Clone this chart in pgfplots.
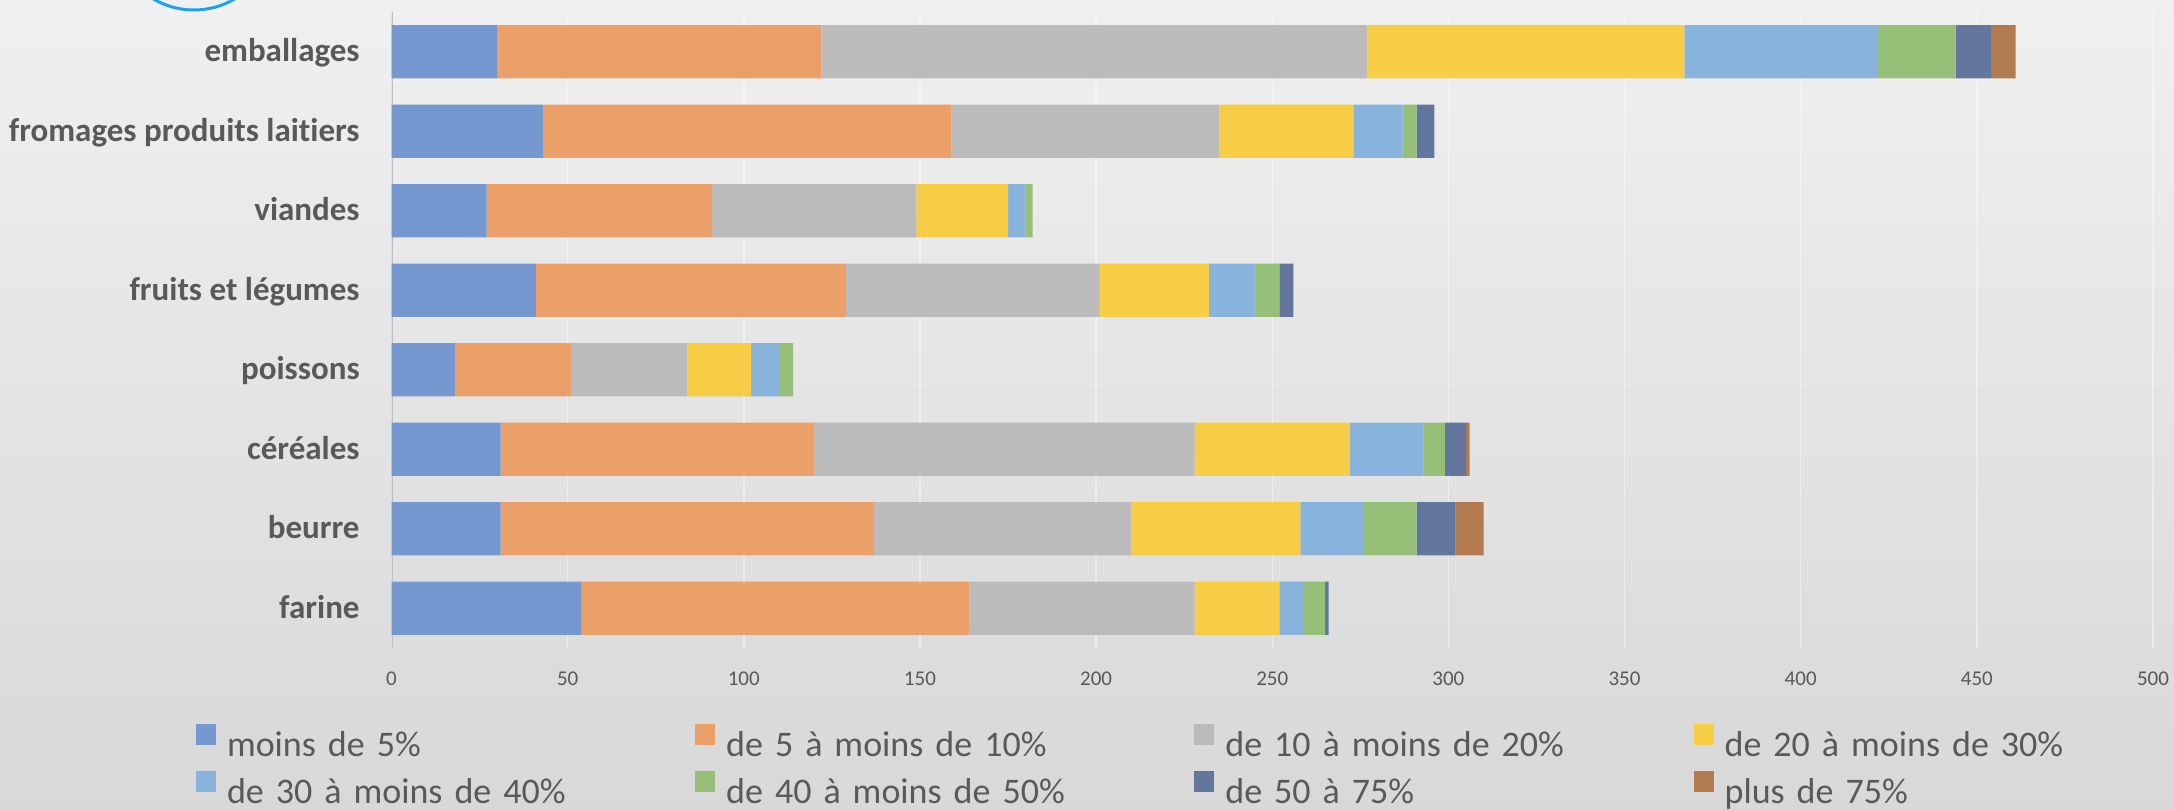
\documentclass[border=0pt]{standalone}
\usepackage{fontspec}
\setmainfont{Carlito}[Ligatures=NoCommon]
\usepackage{pgfplots}
\usepackage{pgfplotstable}
\pgfplotsset{compat=1.18}

\definecolor{txt}{HTML}{595959}
\definecolor{bgtop}{HTML}{F0F0F0}
\definecolor{bgbot}{HTML}{D8D8D8}
\definecolor{axgray}{HTML}{BFBFBF}
\definecolor{ring}{HTML}{1AA3E8}
\definecolor{c1}{HTML}{7598D0}
\definecolor{c2}{HTML}{EBA06A}
\definecolor{c3}{HTML}{BBBBBB}
\definecolor{c4}{HTML}{F8CD46}
\definecolor{c5}{HTML}{87B3DD}
\definecolor{c6}{HTML}{96BF77}
\definecolor{c7}{HTML}{62769E}
\definecolor{c8}{HTML}{B27A4F}

% idx 7 = top row (emballages), idx 0 = bottom row (farine)
\pgfplotstableread{
idx s1 s2  s3  s4 s5 s6 s7 s8
7   30 92  155 90 55 22 10 7
6   43 116 76  38 14 4  5  0
5   27 64  58  26 5  2  0  0
4   41 88  72  31 13 7  4  0
3   18 33  33  18 8  4  0  0
2   31 89  108 44 21 6  6  1
1   31 106 73  48 18 15 11 8
0   54 110 64  24 7  6  1  0
}\parts

\begin{document}
\begin{tikzpicture}
\shade[top color=bgtop, bottom color=bgbot] (0,0) rectangle (1087pt,404.5pt);
\begin{scope}
  \clip (0,0) rectangle (1087pt,404.5pt);
  \draw[ring, line width=1.5pt] (97pt,439.5pt) circle (40pt);
\end{scope}
\begin{axis}[
  at={(195.75pt,80.5pt)}, anchor=south west, scale only axis,
  width=880.75pt, height=318pt,
  xbar stacked, bar width=26.65pt,
  xmin=0, xmax=500, ymin=-0.5, ymax=7.5,
  xtick={0,50,...,500}, ytick={0,...,7},
  yticklabels={farine,beurre,céréales,poissons,fruits et légumes,viandes,fromages produits laitiers,emballages},
  major tick length=0pt,
  axis line style={draw=none},
  xmajorgrids, major grid style={white, opacity=0.4, line width=0.75pt},
  tick label style={text=txt},
  /pgf/number format/assume math mode=true,
  xticklabel style={font=\fontsize{10.5}{12}\selectfont, anchor=base, yshift=-18.5pt},
  yticklabel style={font=\bfseries\fontsize{16.5}{19}\selectfont, anchor=base east,
    inner xsep=0pt, xshift=-15.75pt, yshift=-5.1pt},
  legend columns=4,
  legend image code/.code={\fill[#1] (0pt,0pt) rectangle (10pt,10.5pt);
    \path (0pt,0pt) (15.5pt,12pt);},
  legend style={at={(-0.11098,-0.18208)}, anchor=west, draw=none, fill=none,
    inner sep=0pt, outer sep=0pt, font=\fontsize{18}{21}\selectfont, text=txt,
    nodes={inner sep=0pt, outer sep=0pt}, /tikz/row sep=4.5pt, /tikz/column sep=0pt,
    /tikz/every even column/.append style={text width=234.1pt, align=left,
      text height=13pt, text depth=2pt}},
]
\addplot[fill=c1, draw=none] table[x=s1, y=idx] {\parts};
\addlegendentry{moins de 5\%}
\addplot[fill=c2, draw=none] table[x=s2, y=idx] {\parts};
\addlegendentry{de 5 à moins de 10\%}
\addplot[fill=c3, draw=none] table[x=s3, y=idx] {\parts};
\addlegendentry{de 10 à moins de 20\%}
\addplot[fill=c4, draw=none] table[x=s4, y=idx] {\parts};
\addlegendentry{de 20 à moins de 30\%}
\addplot[fill=c5, draw=none] table[x=s5, y=idx] {\parts};
\addlegendentry{de 30 à moins de 40\%}
\addplot[fill=c6, draw=none] table[x=s6, y=idx] {\parts};
\addlegendentry{de 40 à moins de 50\%}
\addplot[fill=c7, draw=none] table[x=s7, y=idx] {\parts};
\addlegendentry{de 50 à 75\%}
\addplot[fill=c8, draw=none] table[x=s8, y=idx] {\parts};
\addlegendentry{plus de 75\%}
\draw[axgray, line width=1.2pt] (axis cs:0,-0.5) -- (axis cs:0,7.5);
\end{axis}
\pgfresetboundingbox
\path[use as bounding box] (0,0) rectangle (1087pt,404.5pt);
\end{tikzpicture}
\end{document}
